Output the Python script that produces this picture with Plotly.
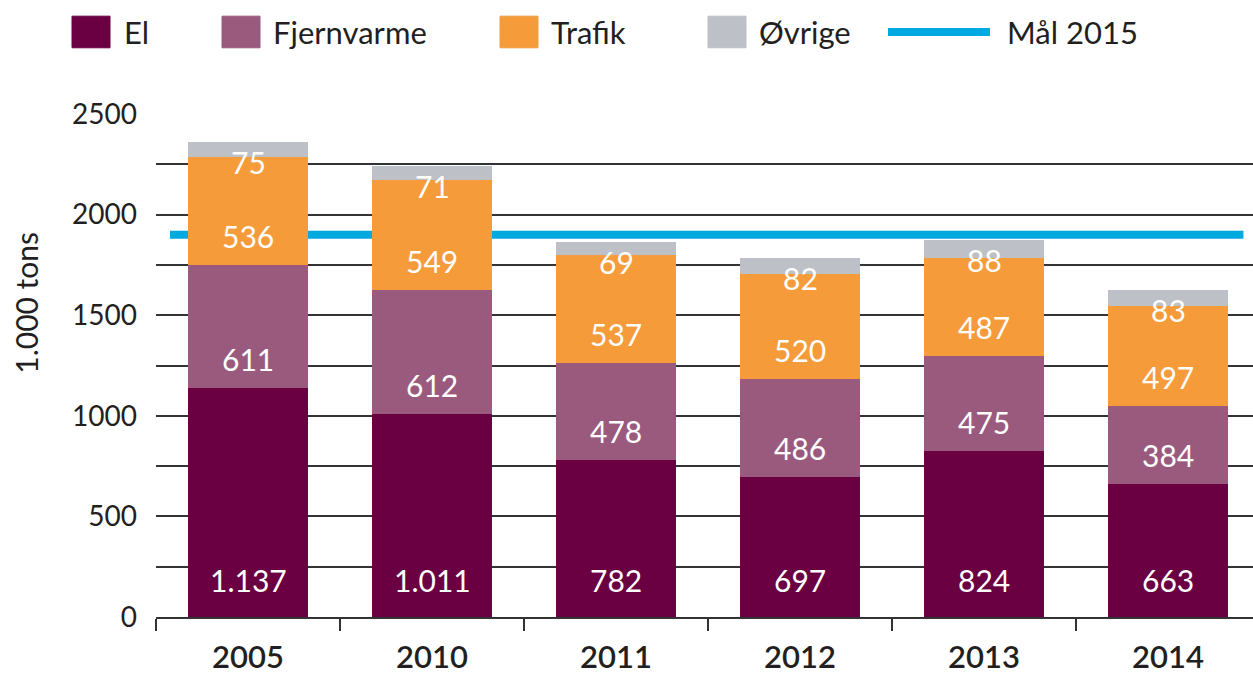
import plotly.graph_objects as go

years = ["2005", "2010", "2011", "2012", "2013", "2014"]
el = [1137, 1011, 782, 697, 824, 663]
fjernvarme = [611, 612, 478, 486, 475, 384]
trafik = [536, 549, 537, 520, 487, 497]
ovrige = [75, 71, 69, 82, 88, 83]
maal_2015 = 1900

series_names = ["El", "Fjernvarme", "Trafik", "Øvrige"]
colors = ["#6A0041", "#9A5A7E", "#F59B3A", "#BDC1C7"]
line_color = "#00A9E0"
FONT = "Lato, 'Open Sans', sans-serif"
TXT = "#231F20"

W, H = 1253, 675
ml, mr, mt, mb = 156, 0, 114, 52
pw, ph = W - ml - mr, H - mt - mb


def px_x(px):
    return (px - ml) / pw


def px_y(py):
    return (H - mb - py) / ph


x = list(range(len(years)))
series = [el, fjernvarme, trafik, ovrige]

fig = go.Figure()
for name, vals, col in zip(series_names, series, colors):
    fig.add_trace(go.Bar(x=x, y=vals, name=name, marker=dict(color=col, line=dict(width=0)),
                         width=0.65, showlegend=False, hoverinfo="y+name"))


def fmt(v):
    return f"{v:,}".replace(",", ".")


annotations = []
base = [0] * len(years)
for si, vals in enumerate(series):
    for i, v in enumerate(vals):
        if si == 3:
            y, ys = base[i] + v, -20
        else:
            y, ys = base[i], (37 if si == 0 else 29)
        annotations.append(dict(x=x[i], y=y, yshift=ys, text=fmt(v), showarrow=False,
                                font=dict(family=FONT, size=30, color="white"),
                                xref="x", yref="y", yanchor="middle"))
    base = [b + v for b, v in zip(base, vals)]

shapes = [dict(type="line", xref="x", yref="y", x0=-0.424, x1=5.41, y0=maal_2015, y1=maal_2015,
               line=dict(color=line_color, width=8), layer="between")]

leg = [(72, 122, "El", colors[0]), (222, 271, "Fjernvarme", colors[1]),
       (500, 549, "Trafik", colors[2]), (708, 757, "Øvrige", colors[3])]
for sx, tx, name, col in leg:
    shapes.append(dict(type="rect", xref="paper", yref="paper",
                       x0=px_x(sx), x1=px_x(sx + 38), y0=px_y(47), y1=px_y(15),
                       line=dict(color=col, width=1), fillcolor=col, layer="above"))
    annotations.append(dict(xref="paper", yref="paper", x=px_x(tx), y=px_y(31), text=name,
                            showarrow=False, xanchor="left", yanchor="middle",
                            font=dict(family=FONT, size=31, color=TXT)))
shapes.append(dict(type="line", xref="paper", yref="paper", x0=px_x(888), x1=px_x(990),
                   y0=px_y(31), y1=px_y(31), line=dict(color=line_color, width=8)))
annotations.append(dict(xref="paper", yref="paper", x=px_x(1005), y=px_y(31), text="Mål 2015",
                        showarrow=False, xanchor="left", yanchor="middle",
                        font=dict(family=FONT, size=31, color=TXT)))
annotations.append(dict(xref="paper", yref="paper", x=px_x(26), y=px_y(305), text="1.000 tons",
                        textangle=-90, showarrow=False, xanchor="center", yanchor="middle",
                        font=dict(family=FONT, size=30, color=TXT)))

fig.update_layout(
    shapes=shapes,
    annotations=annotations,
    barmode="stack",
    width=W, height=H,
    margin=dict(l=ml, r=mr, t=mt, b=mb, pad=0),
    plot_bgcolor="white", paper_bgcolor="white",
    showlegend=False,
    xaxis=dict(range=[-0.5, -0.5 + pw / 184], tickvals=x, ticktext=years, ticks="",
               showgrid=False, zeroline=False, showline=True, linecolor="#333", linewidth=1.5,
               tickfont=dict(family=FONT, size=31, color=TXT, weight=600),
               minor=dict(tick0=0.5, dtick=1, ticks="outside", ticklen=12, tickcolor="#333",
                          tickwidth=1.5, showgrid=False),
               ticklabelstandoff=12, fixedrange=True),
    yaxis=dict(range=[0, 2500], dtick=500, tick0=0, showgrid=True, gridcolor="#333", gridwidth=1.5,
               zeroline=False, ticks="", tickfont=dict(family=FONT, size=28, color=TXT),
               minor=dict(dtick=250, showgrid=True, gridcolor="#333", gridwidth=1.5),
               ticklabelstandoff=18, fixedrange=True),
)

fig.write_html("out.html", config={"displayModeBar": False},
               post_script="document.body.style.margin='0px';document.body.style.overflow='hidden';")
